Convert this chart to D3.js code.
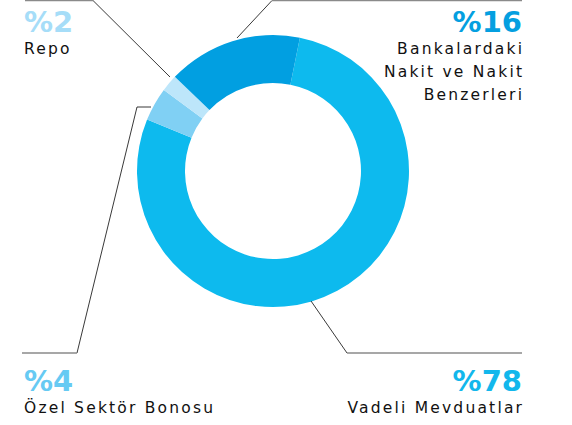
<!DOCTYPE html>
<html><head><meta charset="utf-8">
<script src="https://cdn.jsdelivr.net/npm/d3@7"></script>
<style>
html,body{margin:0;padding:0;background:#fff;}
svg{display:block;}
</style></head>
<body>
<svg id="chart" width="572" height="425"></svg>
<script>
const categories = ["Vadeli Mevduatlar", "Özel Sektör Bonosu", "Repo", "Bankalardaki Nakit ve Nakit Benzerleri"];
const values = [78, 4, 2, 16];
const colors = ["#0dbaee", "#80d0f4", "#bde6fa", "#019fe1"];
const pctColors = ["#12b7ec", "#66caf3", "#a6ddf8", "#049fe0"];
const labelLines = [["Vadeli Mevduatlar"], ["Özel Sektör Bonosu"], ["Repo"], ["Bankalardaki", "Nakit ve Nakit", "Benzerleri"]];

const svg = d3.select("#chart");
const cx = 273, cy = 171, R = 136, r = 88;
const startDeg = 11.4;

const pie = d3.pie().sort(null).value(d => d)
  .startAngle(startDeg * Math.PI / 180)
  .endAngle(startDeg * Math.PI / 180 + 2 * Math.PI);
const arc = d3.arc().innerRadius(r).outerRadius(R);

const g = svg.append("g").attr("transform", `translate(${cx},${cy})`);
g.selectAll("path").data(pie(values)).join("path")
  .attr("d", arc).attr("fill", (d, i) => colors[i]);

// leader lines (annotation layout)
const leaders = [
  [[311, 301], [347, 353], [522, 353]],
  [[151, 107], [137, 107], [77, 353], [22, 353]],
  [[170, 77], [93, 0.5], [25, 0.5]],
  [[237, 38], [272, 0.5], [522, 0.5]]
];
const lineGen = d3.line();
leaders.forEach(pts => {
  const segs = pts.length;
  for (let k = 0; k < segs - 1; k++) {
    const a = pts[k], b = pts[k + 1];
    const horizEnd = (k === segs - 2);
    svg.append("path").attr("d", lineGen([a, b]))
      .attr("fill", "none")
      .attr("stroke", horizEnd ? "#8a8a8a" : "#222")
      .attr("stroke-width", horizEnd ? 1.3 : 0.9);
  }
});

// labels
const labelPos = [
  {x: 522, y: 391, anchor: "end"},
  {x: 24, y: 391, anchor: "start"},
  {x: 24, y: 32, anchor: "start"},
  {x: 522, y: 32, anchor: "end"}
];
const fontFam = "'DejaVu Sans', sans-serif";
const ls = 2.2;
labelPos.forEach((p, i) => {
  svg.append("text").attr("x", p.x).attr("y", p.y)
    .attr("text-anchor", p.anchor)
    .attr("font-family", fontFam).attr("font-weight", 700)
    .attr("font-size", 29).attr("fill", pctColors[i])
    .text("%" + values[i]);
  labelLines[i].forEach((t, j) => {
    svg.append("text").attr("x", p.anchor === "end" ? p.x + ls : p.x).attr("y", p.y + 22 + j * 23)
      .attr("text-anchor", p.anchor)
      .attr("font-family", fontFam).attr("font-size", 15.5)
      .attr("letter-spacing", ls).attr("fill", "#111")
      .text(t);
  });
});
</script>
</body></html>
